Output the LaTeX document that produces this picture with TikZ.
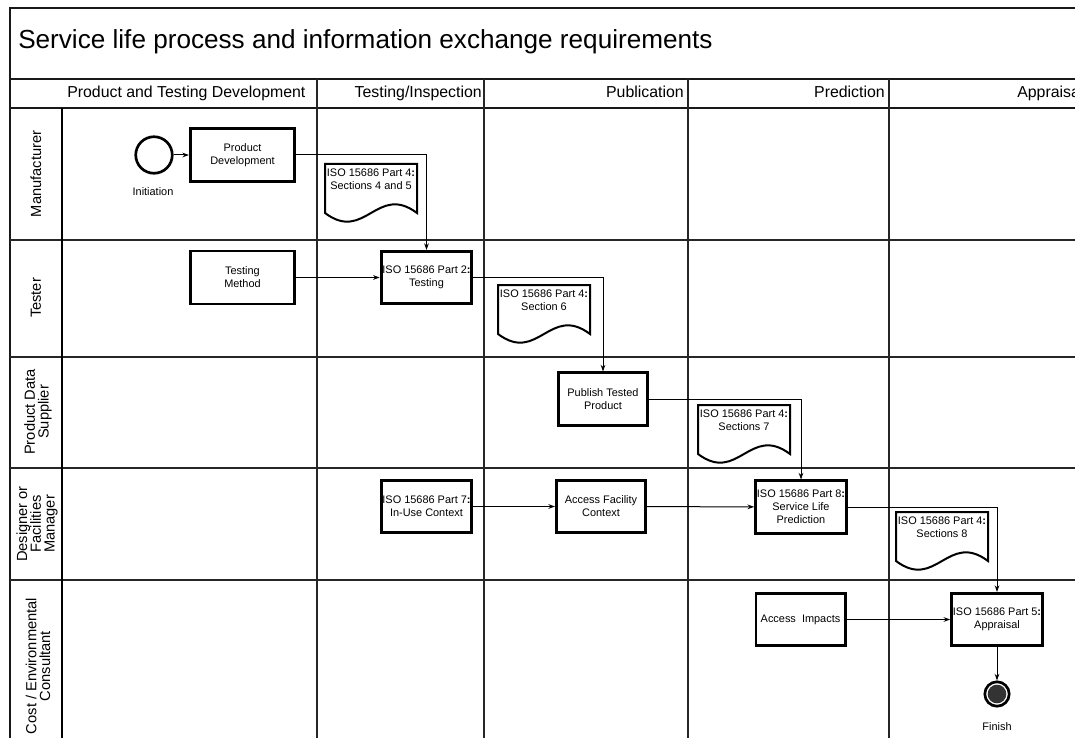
\documentclass[tikz,border=0pt]{standalone}
\usepackage{fontspec}
\setmainfont{Liberation Sans}
\usetikzlibrary{arrows.meta}

\tikzset{
  grid/.style={line width=1.1pt, black!85},
  frame/.style={line width=1.6pt, black!90},
  task/.style={draw, line width=2.1pt, minimum width=66.9pt, minimum height=39.2pt,
    align=center, inner sep=1pt, font=\fontsize{8.2}{9.8}\selectfont},
  widetask/.style={task, minimum width=78.2pt, minimum height=39.7pt},
  flow/.style={line width=0.75pt, -{Stealth[length=5pt,width=3.5pt]}},
  doctext/.style={align=center, inner sep=0pt, font=\fontsize{8.2}{9.8}\selectfont},
  docline/.style={line width=1.5pt},
  smalltext/.style={inner sep=0pt, font=\fontsize{8.2}{9.8}\selectfont},
  lanelabel/.style={rotate=90, align=center, inner sep=0pt, font=\fontsize{11}{10.3}\selectfont},
  colhead/.style={inner sep=0pt, font=\fontsize{11.9}{13}\selectfont}
}

% document shape: name, top-left x, top-left y, text
\newcommand{\isodoc}[4]{%
  \node[doctext, anchor=north] (#1) at (#2+46,#3+5) {#4};
  \draw[docline] (#2,#3+49) -- (#2,#3) -- (#2+92,#3) -- (#2+92,#3+49)
    .. controls (#2+52,#3+19) and (#2+40,#3+79) .. cycle;
}

\begin{document}
\begin{tikzpicture}[x=0.75pt, y=-0.75pt]
\useasboundingbox (0,0) rectangle (1075,738);
\clip (0,0) rectangle (1075,738);

% pool and lanes
\draw[frame] (10,760) -- (10,8) -- (1090,8);
\draw[frame] (10,79) -- (1090,79);
\draw[frame] (10,108) -- (1090,108);
\foreach \y in {240,357,468,580} \draw[grid] (10,\y) -- (1090,\y);
\foreach \x in {317,484,688,889} \draw[grid] (\x,79) -- (\x,760);
\draw[line width=2pt] (62,108) -- (62,760);

\node[anchor=base west, inner sep=0pt, font=\fontsize{19.6}{22}\selectfont] (title) at (18,49)
  {Service life process and information exchange requirements};

\node[colhead, anchor=base west] (hdev) at (67,98) {Product and Testing Development};
\node[colhead, anchor=base east] (htest) at (482,98) {Testing/Inspection};
\node[colhead, anchor=base east] (hpub) at (684,98) {Publication};
\node[colhead, anchor=base east] (hpred) at (885,98) {Prediction};
\node[colhead, anchor=base west] (happ) at (1017,98) {Appraisal};

\node[lanelabel] (lman) at (36,174) {Manufacturer};
\node[lanelabel] (ltest) at (36,298) {Tester};
\node[lanelabel] (lsup) at (38,412) {Product Data\\Supplier};
\node[lanelabel] (ldes) at (37,524) {Designer or\\Facilities\\Manager};
\node[lanelabel] (lcost) at (38,666) {Cost / Environmental\\Consultant};

% events and tasks
\node[circle, draw, line width=2pt, minimum size=27.4pt, inner sep=0pt] (init) at (154,155) {};
\node[smalltext] (initlbl) at (153,192) {Initiation};
\node[widetask] (dev) at (242.5,155) {Product\\Development};
\node[widetask] (method) at (242.5,277.5) {Testing\\Method};
\node[task] (part2) at (426.5,277.5) {ISO 15686 Part 2\textbf{:}\\Testing};
\node[task] (publish) at (603,399) {Publish Tested\\Product};
\node[task] (part7) at (426.5,506.5) {ISO 15686 Part 7\textbf{:}\\In-Use Context};
\node[task] (facility) at (601,506.5) {Access Facility\\Context};
\node[task] (part8) at (801,507) {ISO 15686 Part 8\textbf{:}\\Service Life\\Prediction};
\node[task] (impacts) at (800.5,619.5) {Access\ \ Impacts};
\node[task] (part5) at (997,619.5) {ISO 15686 Part 5\textbf{:}\\Appraisal};
\node[circle, draw, line width=2pt, minimum size=18.3pt, inner sep=0pt] (finish) at (997,694) {};
\node[circle, fill=black!80, minimum size=14pt, inner sep=0pt] (finishcore) at (finish) {};
\node[smalltext] (finishlbl) at (997,727) {Finish};

% information documents
\isodoc{doca}{325}{164}{ISO 15686 Part 4\textbf{:}\\Sections 4 and 5}
\isodoc{docb}{498}{285}{ISO 15686 Part 4\textbf{:}\\Section 6}
\isodoc{docc}{698}{405}{ISO 15686 Part 4\textbf{:}\\Sections 7}
\isodoc{docd}{896}{512}{ISO 15686 Part 4\textbf{:}\\Sections 8}

% sequence flows
\draw[flow] (init) -- (dev);
\draw[flow] (dev) -| (part2);
\draw[flow] (method) -- (part2);
\draw[flow] (part2) -| (publish);
\draw[flow] (publish) -| (part8);
\draw[flow] (part7) -- (facility);
\draw[flow] (facility) -- (part8);
\draw[flow] (part8) -| (part5);
\draw[flow] (impacts) -- (part5);
\draw[flow] (part5) -- (finish);
\end{tikzpicture}
\end{document}
